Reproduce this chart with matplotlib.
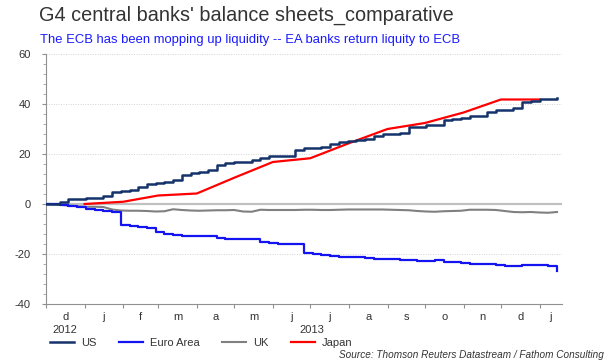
import matplotlib
matplotlib.use("Agg")
import matplotlib.pyplot as plt
import matplotlib.dates as mdates
import matplotlib.transforms as mtrans
from matplotlib.ticker import MultipleLocator, FixedLocator, NullFormatter
import pandas as pd

plt.rcParams['font.family'] = ['Liberation Sans', 'DejaVu Sans']
plt.rcParams['axes.unicode_minus'] = False

# ---- data ----
weekly_dates = pd.date_range('2012-11-28', periods=60, freq='7D')
us = [0, 0, 0.8, 2.0, 2.2, 2.3, 2.4, 3.3, 4.7, 5.2,
      5.5, 6.7, 8.0, 8.4, 8.8, 9.5, 11.6, 12.5, 12.9, 13.5,
      15.6, 16.5, 16.9, 17.0, 17.6, 18.3, 19.2, 19.3, 19.4, 21.6,
      22.3, 22.6, 23.0, 23.9, 24.9, 25.2, 25.6, 26.2, 27.3, 27.9,
      28.2, 28.4, 30.7, 31.0, 31.6, 31.7, 33.6, 34.2, 34.4, 35.3,
      35.4, 36.7, 37.5, 37.7, 38.3, 40.7, 41.3, 41.9, 41.9, 42.4]
euro_area = [0, 0, -0.3, -0.7, -1.2, -2.1, -2.4, -2.6, -3.0, -8.4,
             -8.7, -9.2, -9.4, -11.3, -11.8, -12.3, -12.7, -12.8, -12.8, -12.8,
             -13.5, -14.0, -14.0, -14.0, -14.1, -15.2, -15.6, -16.1, -16.1, -16.1,
             -19.5, -19.9, -20.3, -20.8, -21.1, -21.3, -21.3, -21.6, -21.8, -22.0,
             -22.1, -22.3, -22.5, -22.6, -22.8, -22.3, -23.0, -23.3, -23.6, -23.8,
             -24.0, -24.1, -24.4, -24.8, -24.7, -24.5, -24.5, -24.5, -24.6, -26.9]
uk = [0, 0, -0.3, -0.6, -0.9, -1.1, -1.1, -1.2, -2.2, -2.6,
      -2.7, -2.7, -2.8, -3.0, -2.9, -2.1, -2.4, -2.6, -2.7, -2.6,
      -2.5, -2.5, -2.4, -3.0, -3.1, -2.3, -2.4, -2.4, -2.4, -2.4,
      -2.3, -2.3, -2.4, -2.4, -2.3, -2.2, -2.2, -2.2, -2.2, -2.2,
      -2.3, -2.4, -2.5, -2.8, -3.0, -3.1, -2.9, -2.8, -2.7, -2.3,
      -2.3, -2.3, -2.4, -2.8, -3.2, -3.3, -3.2, -3.4, -3.5, -3.2]
japan_dates = pd.date_range('2013-01-01', periods=13, freq='MS')
japan = [0, 0.9, 3.4, 4.2, 10.5, 16.8, 18.3, 24.3, 30.0, 32.4, 36.6, 41.8, 41.8]

month_labels = ['d', 'j', 'f', 'm', 'a', 'm', 'j', 'j', 'a', 's', 'o', 'n', 'd', 'j']
year_labels = ['2012', '2013']

# ---- figure ----
fig = plt.figure(figsize=(6.10, 3.62), dpi=100)
ax = fig.add_axes([46/610, 1-304/362, (562-46)/610, (304-54)/362])

x0 = pd.Timestamp('2012-12-01')
x1 = pd.Timestamp('2014-01-19')
ax.set_xlim(x0, x1)
ax.set_ylim(-40, 60)

# gridlines
for v in [20, 40, 60, -20]:
    ax.axhline(v, color='#d4d4d4', lw=0.7, ls=(0, (1, 1.5)), zorder=0)
ax.axhline(0, color='#c0c0c0', lw=1.6, zorder=1)

ax.plot(weekly_dates, uk, color='#808080', lw=1.5, zorder=3, label='UK')
ax.plot(weekly_dates, euro_area, color='#1414f0', lw=1.6, drawstyle='steps-post',
        zorder=4, label='Euro Area')
ax.plot(japan_dates, japan, color='#ff0000', lw=1.6, zorder=5, label='Japan')
ax.plot(weekly_dates, us, color='#15336b', lw=1.8, drawstyle='steps-post',
        zorder=6, label='US')

for s in ['top', 'right']:
    ax.spines[s].set_visible(False)
ax.spines['left'].set_color('#909090')
ax.spines['bottom'].set_color('#909090')
ax.spines['left'].set_linewidth(0.8)
ax.spines['bottom'].set_linewidth(0.8)

# y axis
ax.yaxis.set_major_locator(MultipleLocator(20))
ax.yaxis.set_minor_locator(MultipleLocator(4))
ax.tick_params(axis='y', which='major', length=3, width=0.8, color='#909090',
               labelsize=8, labelcolor='#333333', pad=8)
ax.tick_params(axis='y', which='minor', length=2, width=0.6, color='#a0a0a0')

# x axis: boundaries at month starts, labels centered in each month span
bounds = list(pd.date_range('2012-12-01', '2014-01-01', freq='MS')) + [x1]
bnum = [mdates.date2num(b) for b in bounds]
mids = [(bnum[i] + bnum[i+1]) / 2 for i in range(len(bnum) - 1)]
ax.xaxis.set_major_locator(FixedLocator(bnum[:-1]))
ax.xaxis.set_major_formatter(NullFormatter())
ax.xaxis.set_minor_locator(FixedLocator(mids))
ax.xaxis.set_minor_formatter(matplotlib.ticker.FixedFormatter(month_labels))
ax.tick_params(axis='x', which='major', length=3, width=0.8, color='#909090')
ax.tick_params(axis='x', which='minor', length=0, labelsize=8,
               labelcolor='#333333', pad=6)

trans = mtrans.blended_transform_factory(ax.transData, fig.transFigure)
ax.text((bnum[0] + bnum[1]) / 2, 1-330/362, year_labels[0], transform=trans,
        ha='center', va='center', fontsize=8, color='#333333')
ax.text((bnum[1] + bnum[13]) / 2, 1-330/362, year_labels[1], transform=trans,
        ha='center', va='center', fontsize=8, color='#333333')

# titles
fig.text(39/610, 1-15/362, "G4 central banks' balance sheets_comparative",
         fontsize=14.3, color='#333333', ha='left', va='center')
fig.text(40/610, 1-40/362,
         "The ECB has been mopping up liquidity -- EA banks return liquity to ECB",
         fontsize=9.4, color='#1a1aff', ha='left', va='center')

# legend
handles, labels = ax.get_legend_handles_labels()
order = ['US', 'Euro Area', 'UK', 'Japan']
hmap = dict(zip(labels, handles))
leg = fig.legend([hmap[k] for k in order], order, ncol=4, frameon=False,
                 loc='center left', bbox_to_anchor=(50/610, 1-343/362),
                 fontsize=8, handlelength=2.2, handletextpad=0.6,
                 columnspacing=2.0, borderaxespad=0, borderpad=0)
for t in leg.get_texts():
    t.set_color('#333333')

fig.text(604/610, 1-355/362,
         "Source: Thomson Reuters Datastream / Fathom Consulting",
         fontsize=7.2, style='italic', color='#333333', ha='right', va='center')

fig.savefig('out.png', dpi=100)
